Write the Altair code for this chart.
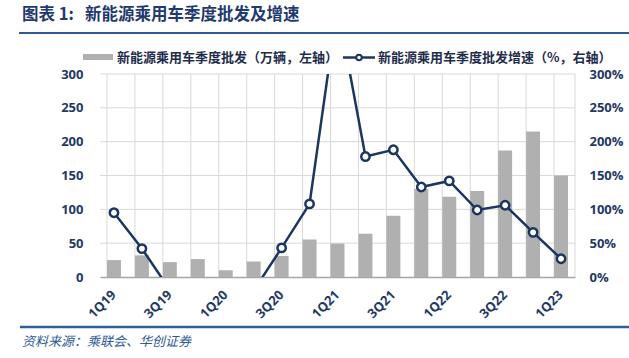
import altair as alt
import pandas as pd

quarters = ["1Q19", "2Q19", "3Q19", "4Q19", "1Q20", "2Q20", "3Q20", "4Q20", "1Q21",
            "2Q21", "3Q21", "4Q21", "1Q22", "2Q22", "3Q22", "4Q22", "1Q23"]
sales = [25, 32, 22, 26.5, 10, 23, 31, 55.5, 49.5, 64, 90.5, 130, 118.5, 127, 187, 215, 150]
growth = [95, 42, -19, -35, -55, -20, 43, 108, 400, 178, 188, 133, 142, 99, 106, 66, 27]
x_labels = ["1Q19", "3Q19", "1Q20", "3Q20", "1Q21", "3Q21", "1Q22", "3Q22", "1Q23"]
y_ticks = [0, 50, 100, 150, 200, 250, 300]

title_head = "图表 1:"
title_body = "新能源乘用车季度批发及增速"
legend_bar = "新能源乘用车季度批发（万辆，左轴）"
legend_line = "新能源乘用车季度批发增速（%，右轴）"
source_text = "资料来源：乘联会、华创证券"

df = pd.DataFrame({"q": quarters, "sales": sales, "growth": growth})
lab_df = pd.DataFrame({"q": x_labels})
grid_df = pd.DataFrame({"sales": y_ticks[1:]})
one = pd.DataFrame({"a": [0]})

NAVY = "#1c3660"
LABEL = "#1f3864"
GRID = "#d9d9d9"
BAR = "#b0b0b0"
CJK = "Noto Sans CJK SC"
LAT = "Open Sans"

x_scale = alt.Scale(paddingInner=0.5, paddingOuter=0.25)
x_axis = alt.Axis(labels=False, ticks=False, grid=False,
                  domainColor="#a6a6a6", domainWidth=1.5)
x_enc = alt.X("q:N", sort=quarters, title=None, scale=x_scale, axis=x_axis)
x_edge = alt.X("q:N", sort=quarters, title=None, scale=x_scale, axis=x_axis, bandPosition=0)

y_scale = alt.Scale(domain=[0, 300], nice=False)
y_axis_left = alt.Axis(values=y_ticks, ticks=False, domain=False, grid=False,
                       labelPadding=17, labelFont=LAT, labelFontSize=13,
                       labelFontWeight="bold", labelColor=LABEL)
y_left = alt.Y("sales:Q", title=None, scale=y_scale, axis=y_axis_left)

y_axis_right = alt.Axis(orient="right", values=y_ticks,
                        ticks=False, domain=False, grid=False, labelPadding=14,
                        labelFont=LAT, labelFontSize=13, labelFontWeight="bold",
                        labelColor=LABEL, labelExpr="datum.value + '%'")
y_right = alt.Y("growth:Q", title=None, scale=y_scale, axis=y_axis_right)

grid_h = alt.Chart(grid_df).mark_rule(color=GRID, strokeWidth=1).encode(y=y_left)
grid_v = alt.Chart(df).mark_rule(color=GRID, strokeWidth=1).encode(
    x=x_edge, y=alt.value(0), y2=alt.value(203))
grid_edge = alt.Chart(one).mark_rule(color=GRID, strokeWidth=1).encode(
    x=alt.value(475), y=alt.value(0), y2=alt.value(203))

bars = alt.Chart(df).mark_bar(color=BAR).encode(x=x_enc, y=y_left)
left_layer = alt.layer(grid_h, grid_v, grid_edge, bars)

line = alt.Chart(df).mark_line(color=NAVY, strokeWidth=2.5, clip=True).encode(
    x=x_enc, y=y_right)
points = alt.Chart(df).mark_point(shape="circle", filled=True, fill="white", stroke=NAVY,
                                  strokeWidth=2.5, size=70, opacity=1, clip=True).encode(
    x=x_enc, y=y_right)
line_layer = alt.layer(line, points)

xlab = alt.Chart(lab_df).mark_text(angle=315, align="right", baseline="middle",
                                   font=LAT, fontSize=13, fontWeight="bold",
                                   color=LABEL).encode(
    x=x_enc, y=alt.value(219), text="q:N")

title1 = alt.Chart(one).mark_text(align="left", baseline="middle", font=CJK, fontSize=16.5,
                                  fontWeight="bold", color="#1f3a6e").encode(
    x=alt.value(-78), y=alt.value(-59), text=alt.value(title_head))
title2 = alt.Chart(one).mark_text(align="left", baseline="middle", font=CJK, fontSize=16.5,
                                  fontWeight="bold", color="#1f3a6e").encode(
    x=alt.value(-15), y=alt.value(-59), text=alt.value(title_body))
title_rule = alt.Chart(one).mark_rule(color="#2e5a95", strokeWidth=2).encode(
    x=alt.value(-81), x2=alt.value(529), y=alt.value(-41))
foot_rule = alt.Chart(one).mark_rule(color="#2f5f98", strokeWidth=2.5).encode(
    x=alt.value(-80), x2=alt.value(529), y=alt.value(253))
source = alt.Chart(one).mark_text(align="left", baseline="middle", font=CJK, fontSize=13,
                                  fontStyle="italic", color="#2f5a95").encode(
    x=alt.value(-78), y=alt.value(268), text=alt.value(source_text))

leg_swatch = alt.Chart(one).mark_rect(color=BAR).encode(
    x=alt.value(-17), x2=alt.value(13), y=alt.value(-20), y2=alt.value(-14))
leg_text1 = alt.Chart(one).mark_text(align="left", baseline="middle", font=CJK, fontSize=13,
                                     fontWeight="bold", color="#1f2d4d").encode(
    x=alt.value(17), y=alt.value(-16.5), text=alt.value(legend_bar))
leg_line = alt.Chart(one).mark_rule(color=NAVY, strokeWidth=2.5).encode(
    x=alt.value(243), x2=alt.value(275), y=alt.value(-16.5))
leg_pt = alt.Chart(one).mark_point(shape="circle", filled=True, fill="white", stroke=NAVY,
                                   strokeWidth=2, size=30, opacity=1).encode(
    x=alt.value(259), y=alt.value(-16.5))
leg_text2 = alt.Chart(one).mark_text(align="left", baseline="middle", font=CJK, fontSize=13,
                                     fontWeight="bold", color="#1f2d4d").encode(
    x=alt.value(278), y=alt.value(-16.5), text=alt.value(legend_line))

chart = alt.layer(left_layer, line_layer, xlab, title1, title2, title_rule, foot_rule, source,
                  leg_swatch, leg_text1, leg_line, leg_pt, leg_text2).resolve_scale(
    y="independent"
).properties(
    width=475, height=203,
    autosize=alt.AutoSizeParams(type="none"),
    padding={"left": 100, "top": 74, "right": 54, "bottom": 81},
    background="white",
).configure_view(strokeWidth=0)

chart.save("out.html", embed_options={"renderer": "svg", "actions": False})
